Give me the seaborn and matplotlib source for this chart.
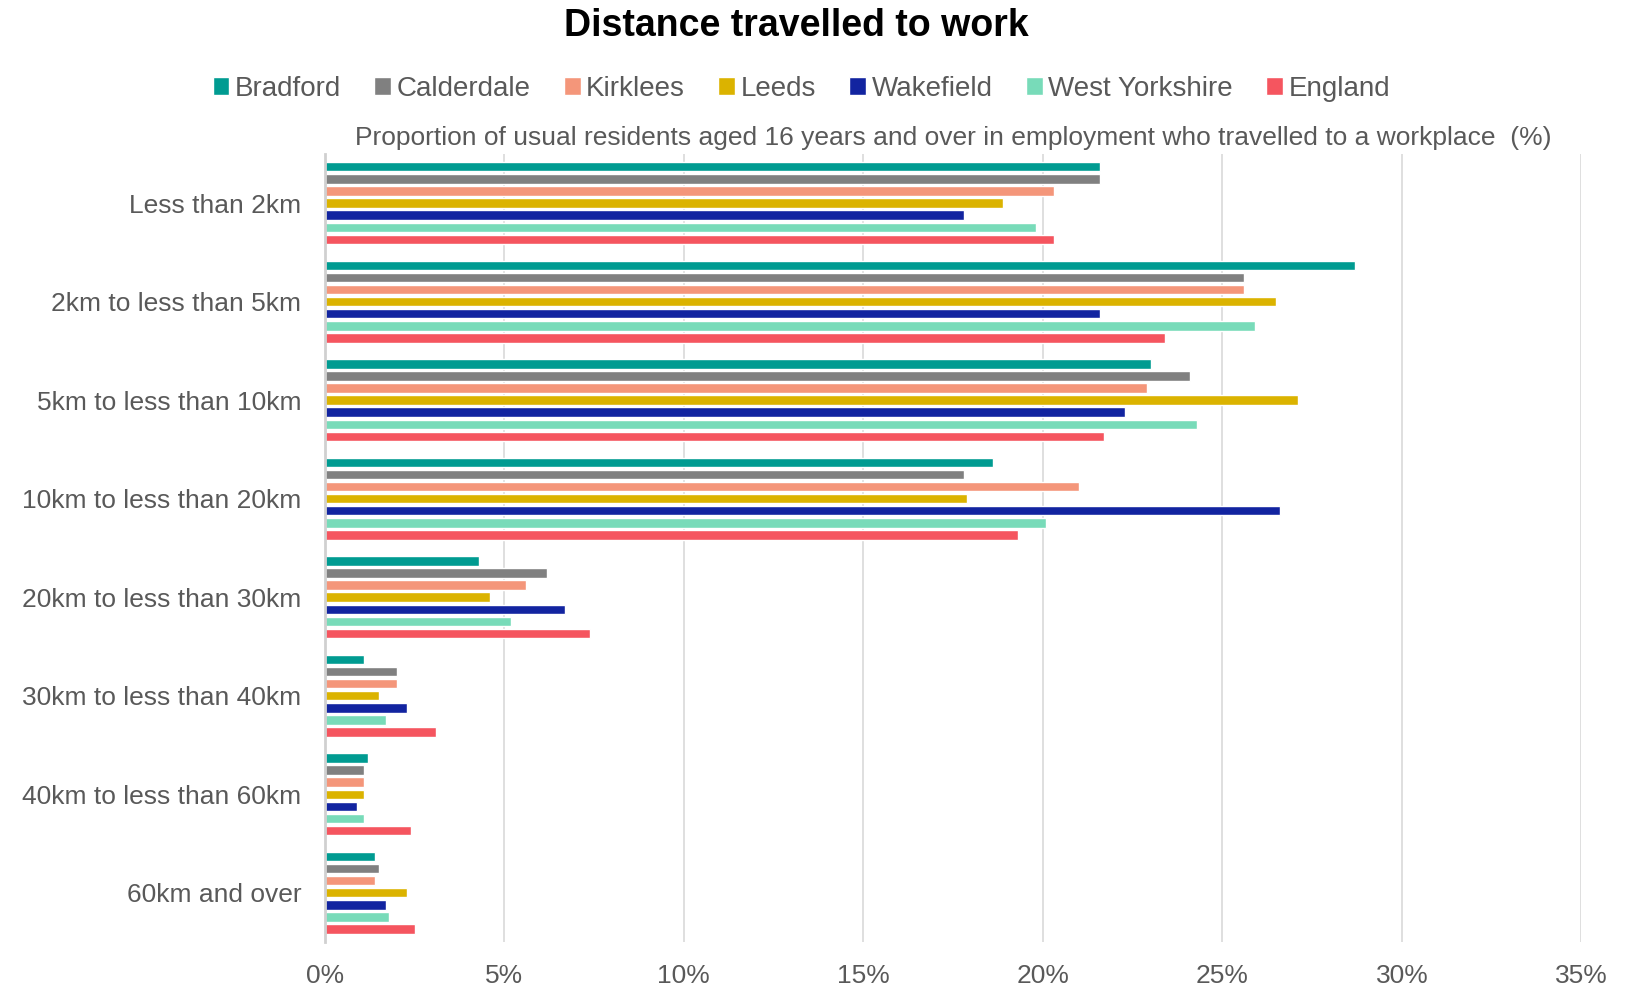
import matplotlib
matplotlib.use("Agg")
import matplotlib.pyplot as plt
import seaborn as sns
import pandas as pd
from matplotlib.ticker import FuncFormatter, MultipleLocator

distances = [
    "Less than 2km",
    "2km to less than 5km",
    "5km to less than 10km",
    "10km to less than 20km",
    "20km to less than 30km",
    "30km to less than 40km",
    "40km to less than 60km",
    "60km and over",
]
areas = ["Bradford", "Calderdale", "Kirklees", "Leeds", "Wakefield", "West Yorkshire", "England"]

bradford = [21.6, 28.7, 23.0, 18.6, 4.3, 1.1, 1.2, 1.4]
calderdale = [21.6, 25.6, 24.1, 17.8, 6.2, 2.0, 1.1, 1.5]
kirklees = [20.3, 25.6, 22.9, 21.0, 5.6, 2.0, 1.1, 1.4]
leeds = [18.9, 26.5, 27.1, 17.9, 4.6, 1.5, 1.1, 2.3]
wakefield = [17.8, 21.6, 22.3, 26.6, 6.7, 2.3, 0.9, 1.7]
west_yorkshire = [19.8, 25.9, 24.3, 20.1, 5.2, 1.7, 1.1, 1.8]
england = [20.3, 23.4, 21.7, 19.3, 7.4, 3.1, 2.4, 2.5]

palette = ["#009B91", "#808080", "#F4967A", "#DBB300", "#1224A0", "#78DBB9", "#F5555F"]

series = [bradford, calderdale, kirklees, leeds, wakefield, west_yorkshire, england]
rows = []
for area, vals in zip(areas, series):
    for d, v in zip(distances, vals):
        rows.append({"distance": d, "area": area, "pct": v})
df = pd.DataFrame(rows)

sns.set_theme(style="white")
plt.rcParams["font.family"] = ["Liberation Sans", "DejaVu Sans"]
text_col = "#595959"

fig = plt.figure(figsize=(16.32, 9.89), dpi=100)
ax = fig.add_axes([0.199, 0.0475, 0.770, 0.797])

sns.barplot(data=df, y="distance", x="pct", hue="area", order=distances,
            hue_order=areas, palette=palette, orient="h", width=0.86,
            saturation=1, ax=ax, legend=True)

# thin each bar so neighbouring bars are separated by white space
for p in ax.patches:
    h = p.get_height()
    if h > 0:
        new_h = h * 0.78
        p.set_y(p.get_y() + (h - new_h) / 2)
        p.set_height(new_h)

handles, labels = ax.get_legend_handles_labels()
ax.get_legend().remove()

ax.set_xlim(0, 35)
ax.set_ylim(7.5, -0.5)
ax.xaxis.set_major_locator(MultipleLocator(5))
ax.xaxis.set_major_formatter(FuncFormatter(lambda v, _: f"{v:.0f}%"))
ax.grid(axis="x", color="#D9D9D9", linewidth=1.2)
ax.set_axisbelow(True)
for s in ["top", "right", "bottom"]:
    ax.spines[s].set_visible(False)
ax.spines["left"].set_color("#D0D0D0")
ax.spines["left"].set_linewidth(2)

ax.tick_params(axis="x", length=5, color="#D9D9D9", labelsize=19, labelcolor=text_col, pad=11)
ax.tick_params(axis="y", length=0, labelsize=19, labelcolor=text_col, pad=17)
ax.set_ylabel("")
ax.set_xlabel("")

fig.text(0.488, 0.974, "Distance travelled to work", ha="center", va="center",
         fontsize=27, fontweight="bold", color="black")
ax.text(0.5, 1.0 + (0.860 - 0.844) / 0.797,
        "Proportion of usual residents aged 16 years and over in employment who travelled to a workplace  (%)",
        transform=ax.transAxes, ha="center", va="center", fontsize=19, color=text_col)

fig.legend(handles, labels, loc="center", bbox_to_anchor=(0.491, 0.910), ncol=7,
           frameon=False, fontsize=20, labelcolor=text_col, handlelength=0.6,
           handleheight=0.6, handletextpad=0.2, columnspacing=1.2)

fig.savefig("out.png", dpi=100)
